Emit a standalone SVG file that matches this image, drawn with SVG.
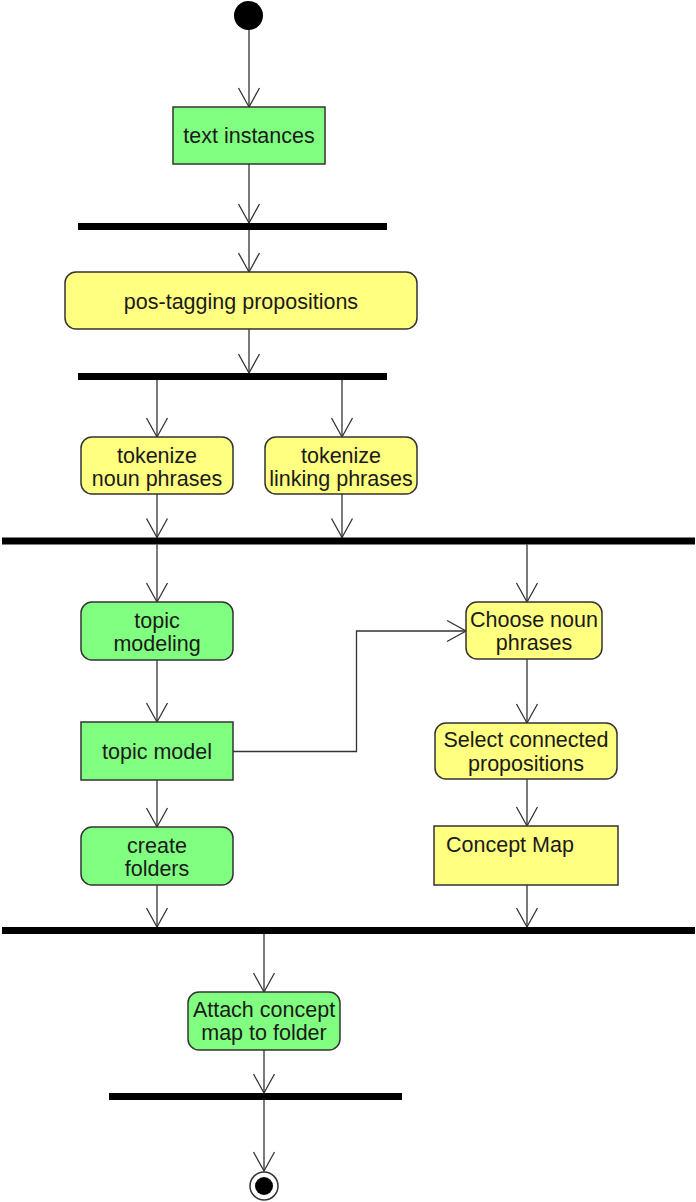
<svg xmlns="http://www.w3.org/2000/svg" width="696" height="1202" viewBox="0 0 696 1202">
<style>
  .act { stroke: #333333; stroke-width: 1.5; }
  .green { fill: #80FF80; }
  .yellow { fill: #FFFF80; }
  .bar { fill: #000000; }
  .lbl { font-family: "Liberation Sans", Arial, sans-serif; font-size: 21.5px; fill: #1a1a1a; text-anchor: middle; }
  .lbl-l { font-family: "Liberation Sans", Arial, sans-serif; font-size: 21.5px; fill: #1a1a1a; text-anchor: start; }
  .conn { fill: none; stroke: #333333; stroke-width: 1.3; marker-end: url(#open); }
</style>
<defs>
  <marker id="open" markerUnits="userSpaceOnUse" viewBox="-21 -12 23 24" refX="0" refY="0" markerWidth="23" markerHeight="24" orient="auto" overflow="visible">
    <path d="M -19 -10.5 L 0 0 L -19 10.5" fill="none" stroke="#333333" stroke-width="1.3"/>
  </marker>
</defs>
<rect width="696" height="1202" fill="#ffffff"/>

<g id="connectors">
  <path class="conn" d="M 249 29 L 249 107"/>
  <path class="conn" d="M 249 164 L 249 223"/>
  <path class="conn" d="M 249 230 L 249 272"/>
  <path class="conn" d="M 249 329 L 249 373"/>
  <path class="conn" d="M 157 380 L 157 437"/>
  <path class="conn" d="M 342 380 L 342 437"/>
  <path class="conn" d="M 157 494 L 157 537.5"/>
  <path class="conn" d="M 342 494 L 342 537.5"/>
  <path class="conn" d="M 157 544.5 L 157 602"/>
  <path class="conn" d="M 527 544.5 L 527 602"/>
  <path class="conn" d="M 157 660 L 157 722"/>
  <path class="conn" d="M 233 751.5 L 356.5 751.5 L 356.5 631 L 466 631"/>
  <path class="conn" d="M 157 780 L 157 827"/>
  <path class="conn" d="M 527 659 L 527 723"/>
  <path class="conn" d="M 527 779 L 527 826"/>
  <path class="conn" d="M 157 885 L 157 927"/>
  <path class="conn" d="M 527 885 L 527 927"/>
  <path class="conn" d="M 264 934 L 264 992"/>
  <path class="conn" d="M 264 1050 L 264 1093"/>
  <path class="conn" d="M 264 1100 L 264 1171"/>
</g>

<g id="start"><circle cx="248.5" cy="15.5" r="14.5" fill="#000000"/></g>

<g id="text-instances">
  <rect class="act green" x="173" y="107" width="152" height="57"/>
  <text class="lbl" x="249" y="143">text instances</text>
</g>

<g id="fork1"><rect class="bar" x="78" y="223" width="309" height="7"/></g>

<g id="pos-tagging">
  <rect class="act yellow" x="65" y="272" width="352" height="57" rx="11" ry="11"/>
  <text class="lbl" x="241" y="309">pos-tagging propositions</text>
</g>

<g id="fork2"><rect class="bar" x="78" y="373" width="309" height="7"/></g>

<g id="tokenize-noun">
  <rect class="act yellow" x="81" y="437" width="152" height="57" rx="11" ry="11"/>
  <text class="lbl" x="157" y="463">tokenize</text>
  <text class="lbl" x="157" y="486">noun phrases</text>
</g>

<g id="tokenize-linking">
  <rect class="act yellow" x="265" y="437" width="152" height="57" rx="11" ry="11"/>
  <text class="lbl" x="341" y="463">tokenize</text>
  <text class="lbl" x="341" y="486">linking phrases</text>
</g>

<g id="join1"><rect class="bar" x="2" y="537.5" width="693" height="7"/></g>

<g id="topic-modeling">
  <rect class="act green" x="81" y="602" width="152" height="58" rx="11" ry="11"/>
  <text class="lbl" x="157" y="628">topic</text>
  <text class="lbl" x="157" y="651">modeling</text>
</g>

<g id="topic-model">
  <rect class="act green" x="81" y="722" width="152" height="58"/>
  <text class="lbl" x="157" y="759">topic model</text>
</g>

<g id="create-folders">
  <rect class="act green" x="81" y="827" width="152" height="58" rx="11" ry="11"/>
  <text class="lbl" x="157" y="853">create</text>
  <text class="lbl" x="157" y="876">folders</text>
</g>

<g id="choose-noun">
  <rect class="act yellow" x="466" y="602" width="136" height="57" rx="11" ry="11"/>
  <text class="lbl" x="534" y="627">Choose noun</text>
  <text class="lbl" x="534" y="650">phrases</text>
</g>

<g id="select-connected">
  <rect class="act yellow" x="435" y="723" width="182" height="56" rx="11" ry="11"/>
  <text class="lbl" x="526" y="747">Select connected</text>
  <text class="lbl" x="526" y="771">propositions</text>
</g>

<g id="concept-map">
  <rect class="act yellow" x="434" y="826" width="184" height="59"/>
  <text class="lbl-l" x="446" y="852">Concept Map</text>
</g>

<g id="join2"><rect class="bar" x="2" y="927" width="693" height="7"/></g>

<g id="attach">
  <rect class="act green" x="188" y="992" width="152" height="58" rx="11" ry="11"/>
  <text class="lbl" x="264" y="1017">Attach concept</text>
  <text class="lbl" x="264" y="1040">map to folder</text>
</g>

<g id="join3"><rect class="bar" x="109" y="1093" width="293" height="7"/></g>

<g id="end">
  <circle cx="264" cy="1186" r="14" fill="#ffffff" stroke="#333333" stroke-width="1.5"/>
  <circle cx="264" cy="1186" r="9" fill="#000000"/>
</g>
</svg>
